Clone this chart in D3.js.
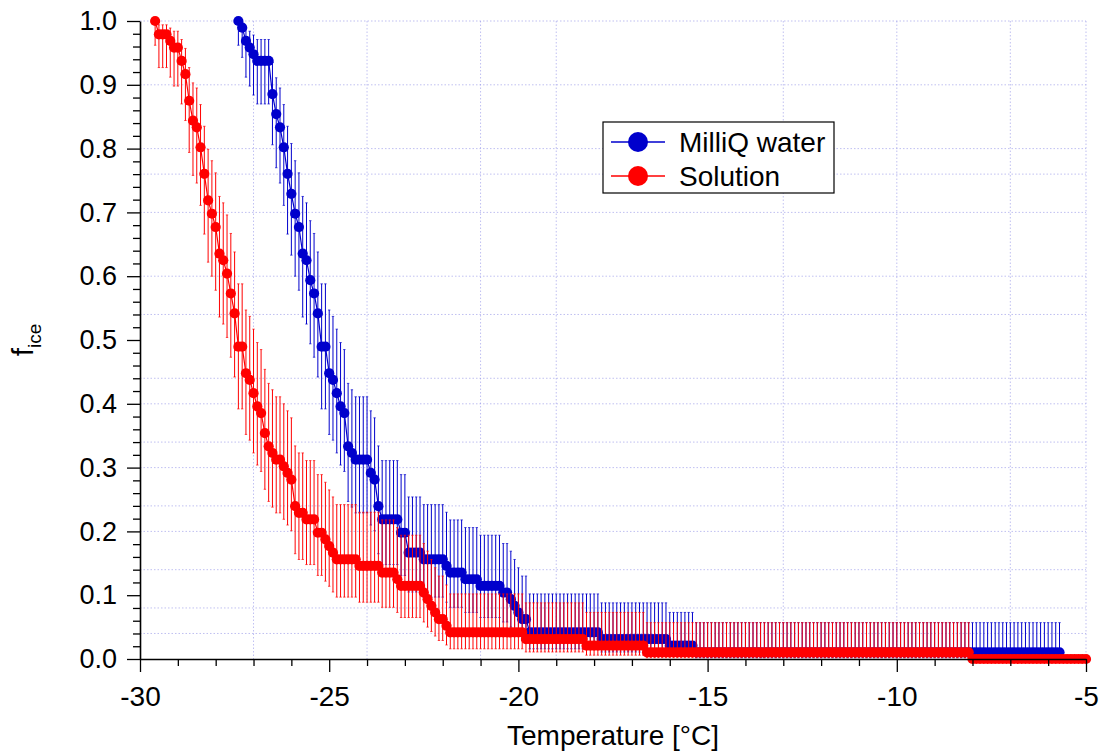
<!DOCTYPE html>
<html><head><meta charset="utf-8">
<script src="https://cdn.jsdelivr.net/npm/d3@7"></script>
<style>
html,body{margin:0;padding:0;background:#fff;}
svg{display:block;font-family:"Liberation Sans",Arial,sans-serif;}
</style></head><body>
<svg id="chart" width="1102" height="755"></svg>
<script>
// ---------- data ----------
const nDroplets = 96;
// [from °C, to °C, frozen droplets] -- one point every 0.1 °C
const milliqSteps = [
  [-27.4,-27.4,96],[-27.3,-27.3,95],[-27.2,-27.2,93],[-27.1,-27.1,92],[-27.0,-27.0,91],
  [-26.9,-26.6,90],[-26.5,-26.5,85],[-26.4,-26.4,82],[-26.3,-26.3,80],[-26.2,-26.2,77],
  [-26.1,-26.1,73],[-26.0,-26.0,70],[-25.9,-25.9,67],[-25.8,-25.8,65],[-25.7,-25.7,61],
  [-25.6,-25.6,60],[-25.5,-25.5,57],[-25.4,-25.4,55],[-25.3,-25.3,52],[-25.2,-25.1,47],
  [-25.0,-25.0,43],[-24.9,-24.9,42],[-24.8,-24.8,40],[-24.7,-24.7,38],[-24.6,-24.6,37],
  [-24.5,-24.5,32],[-24.4,-24.4,31],[-24.3,-24.0,30],[-23.9,-23.9,28],[-23.8,-23.8,27],
  [-23.7,-23.7,23],[-23.6,-23.2,21],[-23.1,-23.0,19],[-22.9,-22.6,16],[-22.5,-22.0,15],
  [-21.9,-21.9,14],[-21.8,-21.5,13],[-21.4,-21.1,12],[-21.0,-20.5,11],[-20.4,-20.3,10],
  [-20.2,-20.2,9],[-20.1,-20.1,8],[-20.0,-20.0,7],[-19.9,-19.8,6],[-19.7,-17.9,4],
  [-17.8,-16.1,3],[-16.0,-15.4,2],[-15.3,-5.7,1]
];
const solutionSteps = [
  [-29.6,-29.6,96],[-29.5,-29.3,94],[-29.2,-29.2,93],[-29.1,-29.0,92],[-28.9,-28.9,90],
  [-28.8,-28.8,88],[-28.7,-28.7,84],[-28.6,-28.6,81],[-28.5,-28.5,80],[-28.4,-28.4,77],
  [-28.3,-28.3,73],[-28.2,-28.2,69],[-28.1,-28.1,67],[-28.0,-28.0,65],[-27.9,-27.9,61],
  [-27.8,-27.8,60],[-27.7,-27.7,58],[-27.6,-27.6,55],[-27.5,-27.5,52],[-27.4,-27.3,47],
  [-27.2,-27.2,43],[-27.1,-27.1,42],[-27.0,-27.0,40],[-26.9,-26.9,38],[-26.8,-26.8,37],
  [-26.7,-26.7,34],[-26.6,-26.6,32],[-26.5,-26.5,31],[-26.4,-26.3,30],[-26.2,-26.2,29],
  [-26.1,-26.1,28],[-26.0,-26.0,27],[-25.9,-25.9,23],[-25.8,-25.7,22],[-25.6,-25.4,21],
  [-25.3,-25.2,19],[-25.1,-25.1,18],[-25.0,-25.0,17],[-24.9,-24.9,16],[-24.8,-24.3,15],
  [-24.2,-23.7,14],[-23.6,-23.3,13],[-23.2,-23.2,12],[-23.1,-22.6,11],[-22.5,-22.5,10],
  [-22.4,-22.4,9],[-22.3,-22.3,8],[-22.2,-22.2,7],[-22.1,-22.0,6],[-21.9,-21.9,5],
  [-21.8,-19.9,4],[-19.8,-18.3,3],[-18.2,-16.7,2],[-16.6,-8.1,1],[-8.0,-5.0,0]
];
// error bar bounds (% frozen) for each number of frozen droplets 0..96
const ciLowPct = [0,0.2,0.6,1.1,1.6,2.2,2.9,3.6,4.3,5.0,5.8,6.5,7.3,8.1,8.9,9.7,10.5,11.4,12.2,13.1,
  13.9,14.8,15.6,16.5,17.4,18.3,19.2,20.1,21.0,21.9,22.9,23.8,24.7,25.6,26.6,27.5,28.5,29.4,30.4,31.3,
  32.3,33.3,34.3,35.2,36.2,37.2,38.2,39.2,40.2,41.2,42.2,43.2,44.2,45.3,46.3,47.3,48.3,49.4,50.4,51.5,
  52.5,53.6,54.6,55.7,56.8,57.8,58.9,60.0,61.1,62.2,63.3,64.4,65.5,66.6,67.7,68.9,70.0,71.1,72.3,73.5,
  74.6,75.8,77.0,78.2,79.4,80.6,81.9,83.1,84.4,85.7,87.0,88.4,89.8,91.2,92.7,94.3,96.2];
const ciHighPct = [0,5.7,7.3,8.8,10.2,11.6,13.0,14.3,15.6,16.9,18.1,19.4,20.6,21.8,23.0,24.2,25.4,26.5,27.7,28.9,
  30.0,31.1,32.3,33.4,34.5,35.6,36.7,37.8,38.9,40.0,41.1,42.2,43.2,44.3,45.4,46.4,47.5,48.5,49.6,50.6,
  51.7,52.7,53.7,54.7,55.8,56.8,57.8,58.8,59.8,60.8,61.8,62.8,63.8,64.8,65.7,66.7,67.7,68.7,69.6,70.6,
  71.5,72.5,73.4,74.4,75.3,76.2,77.1,78.1,79.0,79.9,80.8,81.7,82.6,83.5,84.4,85.2,86.1,86.9,87.8,88.6,
  89.5,90.3,91.1,91.9,92.7,93.5,94.2,95.0,95.7,96.4,97.1,97.8,98.4,98.9,99.4,99.8,100];

const seriesNames = ["MilliQ water", "Solution"];
const seriesColors = ["#0000cc", "#ff0000"];
const xTickValues = [-30, -25, -20, -15, -10, -5];
const xMinorTickValues = [-29,-28,-27,-26,-24,-23,-22,-21,-19,-18,-17,-16,-14,-13,-12,-11,-9,-8,-7,-6];
const yTickValues = [0,0.1,0.2,0.3,0.4,0.5,0.6,0.7,0.8,0.9,1.0];
const yMinorTickValues = [0.02,0.04,0.06,0.08,0.12,0.14,0.16,0.18,0.22,0.24,0.26,0.28,0.32,0.34,0.36,0.38,
  0.42,0.44,0.46,0.48,0.52,0.54,0.56,0.58,0.62,0.64,0.66,0.68,0.72,0.74,0.76,0.78,0.82,0.84,0.86,0.88,
  0.92,0.94,0.96,0.98];
const xGridValues = [-27, -24, -21, -19, -13, -10, -7, -5];
const yGridValues = [1.0, 0.9, 0.8, 0.76, 0.7, 0.6, 0.54, 0.44, 0.40, 0.34, 0.30, 0.24, 0.20, 0.14, 0.08, 0.04];

// ---------- drawing ----------
const svg = d3.select("#chart");
const x = d3.scaleLinear().domain([-30, -5]).range([140, 1086]);
const y = d3.scaleLinear().domain([0, 1]).range([659, 21]);

function expand(steps) {
  const pts = [];
  steps.forEach(([t0, t1, k]) => {
    for (let i = Math.round(t0 * 10); i <= Math.round(t1 * 10); i++) {
      pts.push({ t: i / 10, k: k, f: k / nDroplets, lo: ciLowPct[k] / 100, hi: ciHighPct[k] / 100 });
    }
  });
  return pts;
}
const seriesData = [expand(milliqSteps), expand(solutionSteps)];

// grid
const grid = svg.append("g").attr("fill", "none");
grid.selectAll("line.gv").data(xGridValues).join("line").attr("class", "gv")
  .attr("x1", d => x(d)).attr("x2", d => x(d)).attr("y1", y(1)).attr("y2", y(0))
  .attr("stroke", "#8c8ce6").attr("stroke-opacity", 0.55).attr("stroke-width", 1).attr("stroke-dasharray", "1.5,2");
grid.selectAll("line.gh").data(yGridValues).join("line").attr("class", "gh")
  .attr("x1", x(-30)).attr("x2", x(-5)).attr("y1", d => y(d)).attr("y2", d => y(d))
  .attr("stroke", "#8c8ce6").attr("stroke-opacity", 0.55).attr("stroke-width", 1).attr("stroke-dasharray", "1.5,2");

// series
seriesData.forEach((pts, si) => {
  const col = seriesColors[si];
  const g = svg.append("g");
  const eb = g.append("g").attr("stroke", col).attr("stroke-width", 1);
  const withBars = pts.filter(p => p.hi > p.lo);
  eb.selectAll("line.bar").data(withBars).join("line").attr("class", "bar")
    .attr("x1", d => x(d.t)).attr("x2", d => x(d.t)).attr("y1", d => y(d.lo)).attr("y2", d => y(d.hi));
  eb.selectAll("line.capt").data(withBars).join("line").attr("class", "capt")
    .attr("x1", d => x(d.t) - 1.2).attr("x2", d => x(d.t) + 1.2).attr("y1", d => y(d.hi)).attr("y2", d => y(d.hi))
    .attr("stroke-opacity", 0.7);
  eb.selectAll("line.capb").data(withBars).join("line").attr("class", "capb")
    .attr("x1", d => x(d.t) - 1.2).attr("x2", d => x(d.t) + 1.2).attr("y1", d => y(d.lo)).attr("y2", d => y(d.lo))
    .attr("stroke-opacity", 0.7);
  g.append("path").datum(pts)
    .attr("d", d3.line().x(d => x(d.t)).y(d => y(d.f)))
    .attr("fill", "none").attr("stroke", col).attr("stroke-width", 1.2);
  g.selectAll("circle").data(pts).join("circle")
    .attr("cx", d => x(d.t)).attr("cy", d => y(d.f)).attr("r", 5.1).attr("fill", col);
});

// axes
const xAxis = svg.append("g").attr("transform", `translate(0,${y(0)})`)
  .call(d3.axisBottom(x).tickValues(xTickValues).tickSize(13).tickSizeOuter(0).tickPadding(14)
    .tickFormat(d3.format("d")));
svg.append("g").attr("transform", `translate(0,${y(0)})`)
  .call(d3.axisBottom(x).tickValues(xMinorTickValues).tickSize(7).tickSizeOuter(0).tickFormat(""))
  .select(".domain").remove();
const yAxis = svg.append("g").attr("transform", `translate(${x(-30)},0)`)
  .call(d3.axisLeft(y).tickValues(yTickValues).tickSize(13).tickSizeOuter(0).tickPadding(10)
    .tickFormat(d3.format(".1f")));
svg.append("g").attr("transform", `translate(${x(-30)},0)`)
  .call(d3.axisLeft(y).tickValues(yMinorTickValues).tickSize(7).tickSizeOuter(0).tickFormat(""))
  .select(".domain").remove();
svg.selectAll(".domain").attr("stroke", "#000").attr("stroke-width", 1.6);
svg.selectAll(".tick line").attr("stroke", "#000").attr("stroke-width", 1.3);
xAxis.selectAll("text").attr("font-size", 28).attr("fill", "#000").attr("font-family", "Liberation Sans, Arial, sans-serif")
  .text(d => d3.format("d")(d).replace("−", "-"));
yAxis.selectAll("text").attr("font-size", 27).attr("fill", "#000").attr("font-family", "Liberation Sans, Arial, sans-serif");

// axis titles
svg.append("text").attr("x", 613).attr("y", 745).attr("text-anchor", "middle")
  .attr("font-size", 28).attr("fill", "#000").text("Temperature [°C]");
const yt = svg.append("text").attr("transform", "translate(33,340) rotate(-90)")
  .attr("text-anchor", "middle").attr("font-size", 30).attr("fill", "#000");
yt.append("tspan").text("f");
yt.append("tspan").attr("font-size", 19).attr("dy", 8).text("ice");

// legend
const lg = svg.append("g");
lg.append("rect").attr("x", 603).attr("y", 122).attr("width", 231).attr("height", 71)
  .attr("fill", "#fff").attr("stroke", "#000").attr("stroke-width", 1.2);
seriesNames.forEach((name, i) => {
  const cy = 142 + i * 34;
  lg.append("line").attr("x1", 611).attr("x2", 665).attr("y1", cy).attr("y2", cy)
    .attr("stroke", seriesColors[i]).attr("stroke-width", 1.3);
  lg.append("circle").attr("cx", 638).attr("cy", cy).attr("r", 10).attr("fill", seriesColors[i]);
  lg.append("text").attr("x", 679).attr("y", cy).attr("dy", "0.35em").attr("font-size", 28)
    .attr("fill", "#000").text(name);
});
</script>
</body></html>
